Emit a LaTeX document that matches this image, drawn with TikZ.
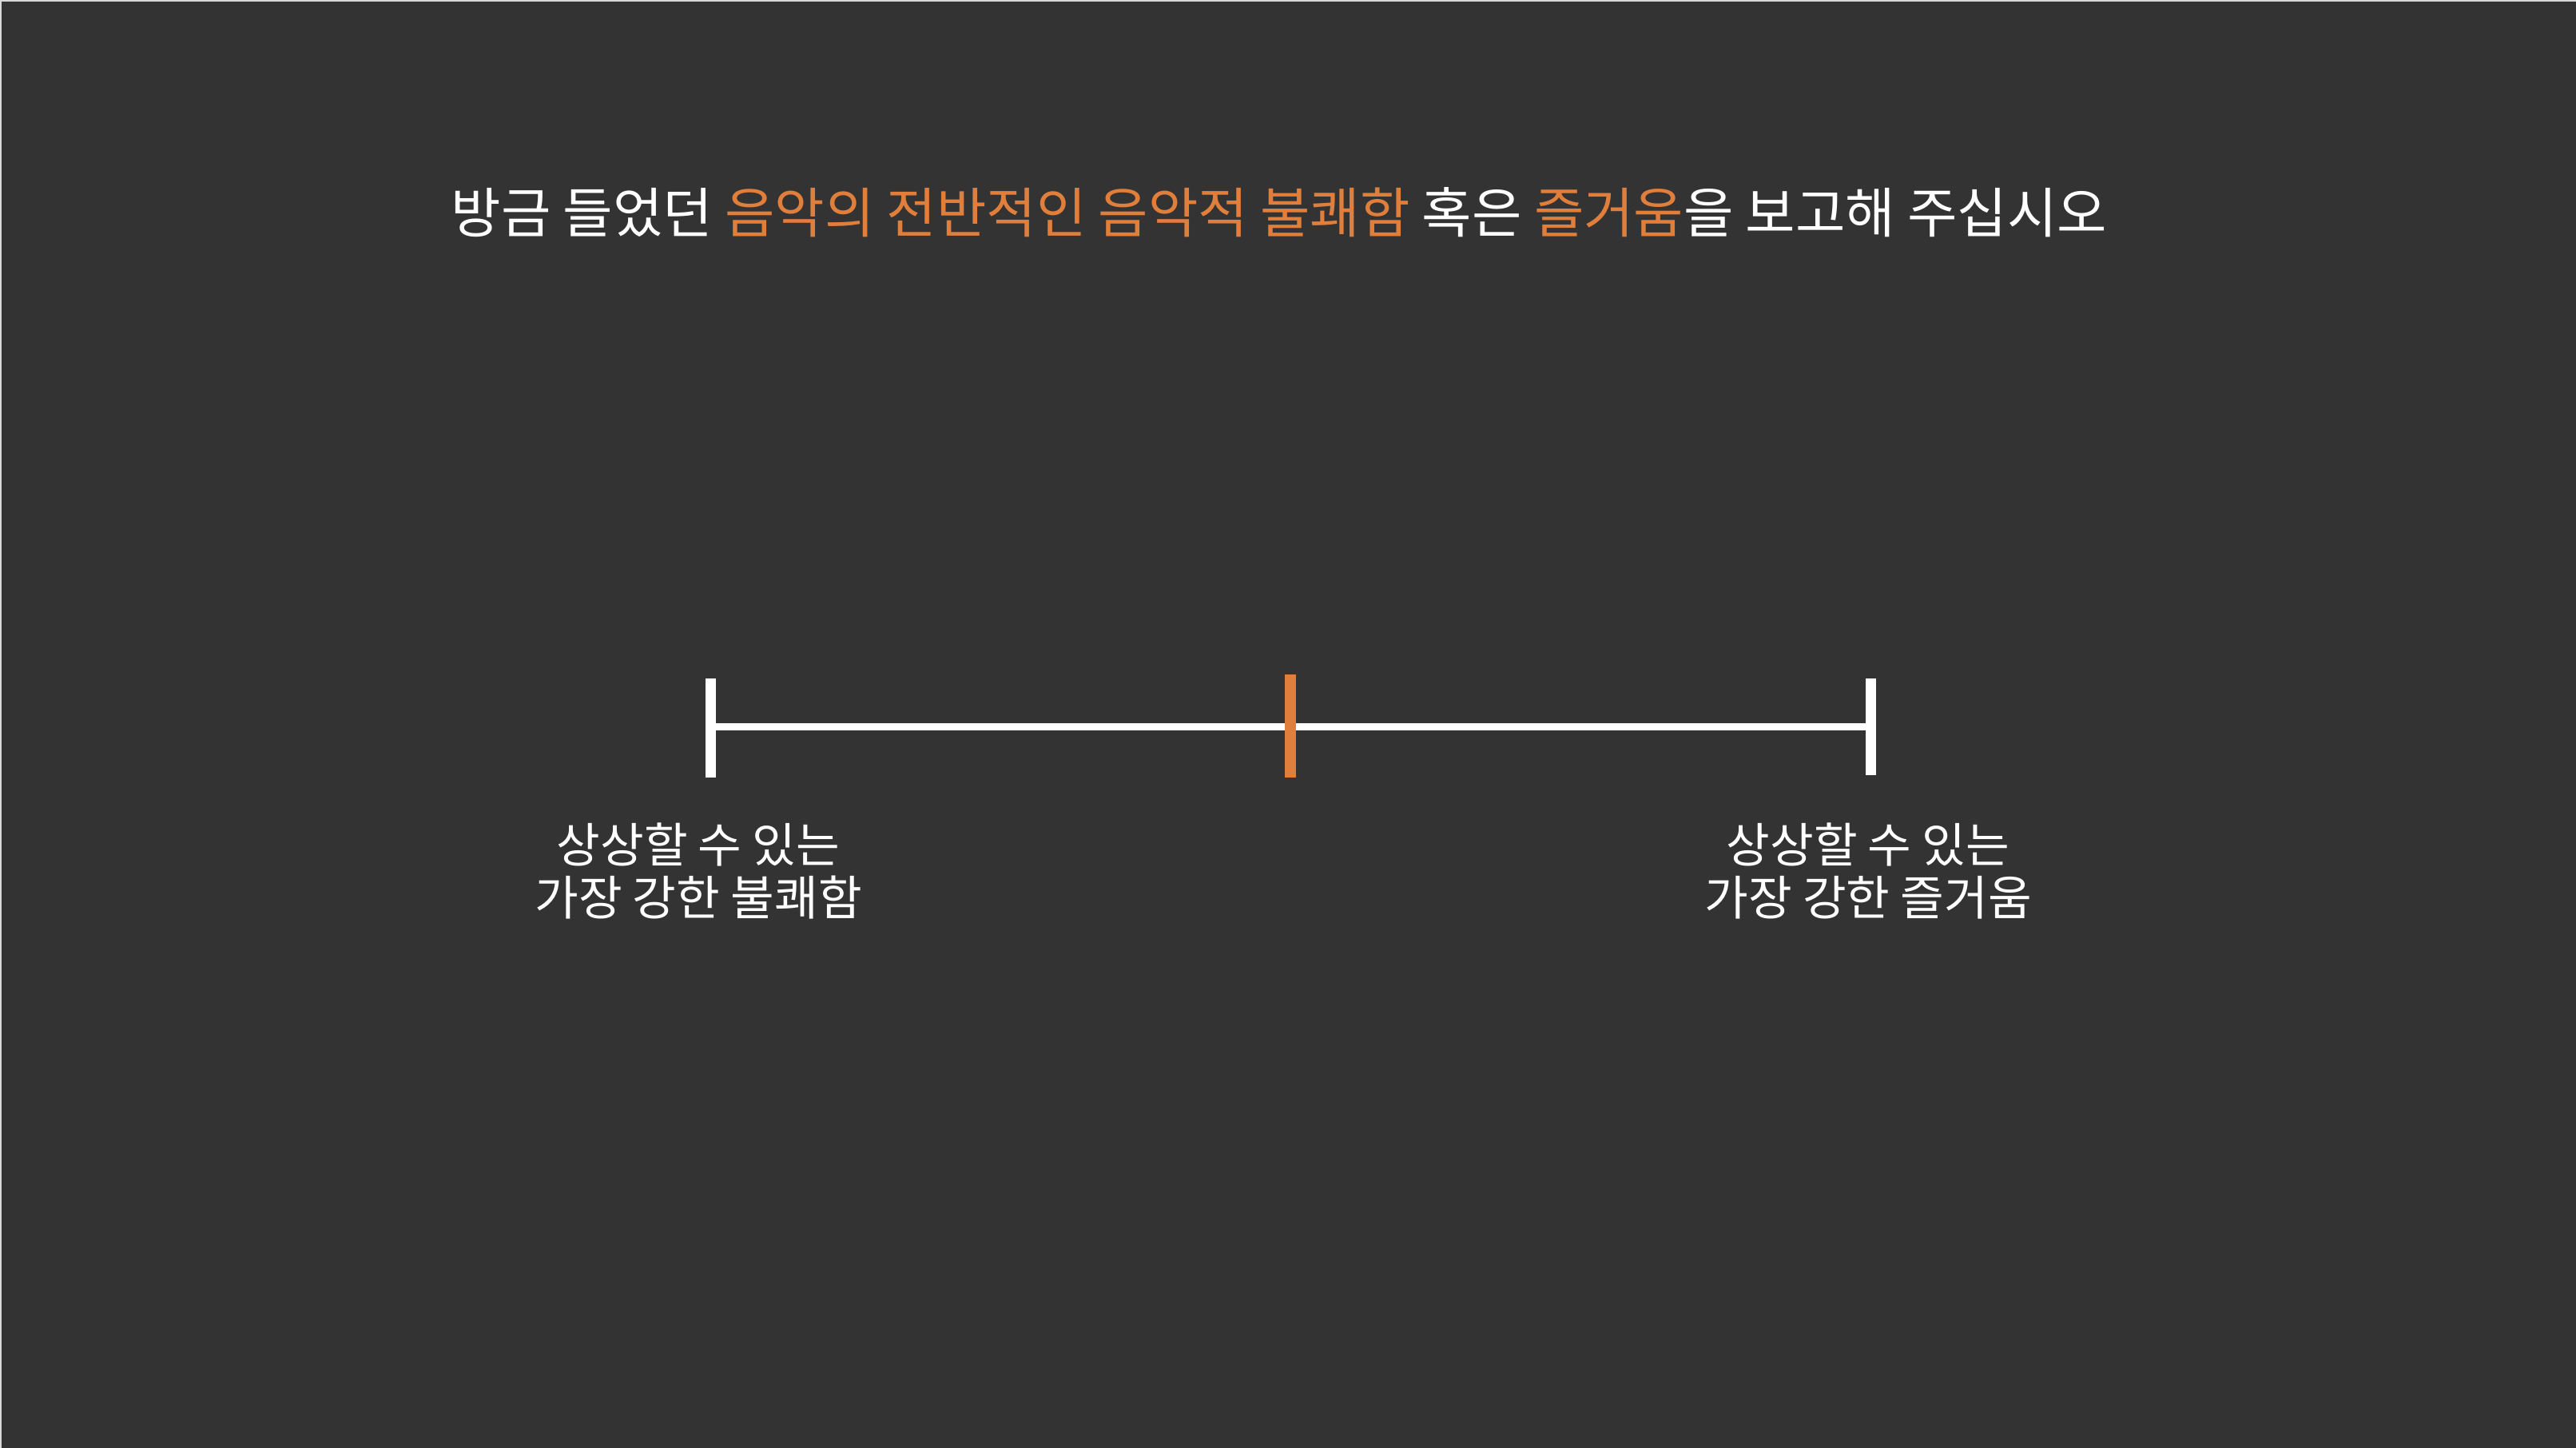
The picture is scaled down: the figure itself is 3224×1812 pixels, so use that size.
\documentclass[tikz,border=0pt]{standalone}
\usepackage{fontspec}
\setmainfont{Noto Sans CJK KR}
\definecolor{slidebg}{HTML}{333333}
\definecolor{slideedge}{HTML}{D9D9D9}
\definecolor{accent}{HTML}{E07E3C}
\tikzset{
    endtick/.style={draw=white, line width=0.13cm},
    marktick/.style={draw=accent, line width=0.14cm},
    scaleline/.style={draw=white, line width=0.09cm},
    endlabel/.style={text=white, align=center, font=\fontsize{16.9}{18.8}\selectfont},
}
\begin{document}
\begin{tikzpicture}[x=0.01cm, y=-0.01cm]
                % page
                \fill[slideedge] (0,0) rectangle (3224,1812);
                \fill[slidebg] (2,2) rectangle (3224,1812);
                \useasboundingbox (0,0) rectangle (3224,1812);

                \node[text=white, font=\fontsize{19.3}{22}\selectfont] (title) at (1601,266)
                    {방금 들었던 \textcolor{accent}{음악의 전반적인 음악적 불쾌함} 혹은 \textcolor{accent}{즐거움}을 보고해 주십시오};

                \coordinate (lo) at (889,909);
                \coordinate (hi) at (2341,909);
                \coordinate (mid) at (1615,909);

                \draw[scaleline] (lo) to (hi);
                \draw[endtick] ([yshift=0.60cm]lo) to ([yshift=-0.64cm]lo);
                \draw[endtick] ([yshift=0.60cm]hi) to ([yshift=-0.61cm]hi);
                \draw[marktick] ([yshift=0.65cm]mid) to ([yshift=-0.64cm]mid);

                \node[endlabel] (lolabel) at (874,1090) {상상할 수 있는\\가장 강한 불쾌함};
                \node[endlabel] (hilabel) at (2338,1090) {상상할 수 있는\\가장 강한 즐거움};
            \end{tikzpicture}
\end{document}
